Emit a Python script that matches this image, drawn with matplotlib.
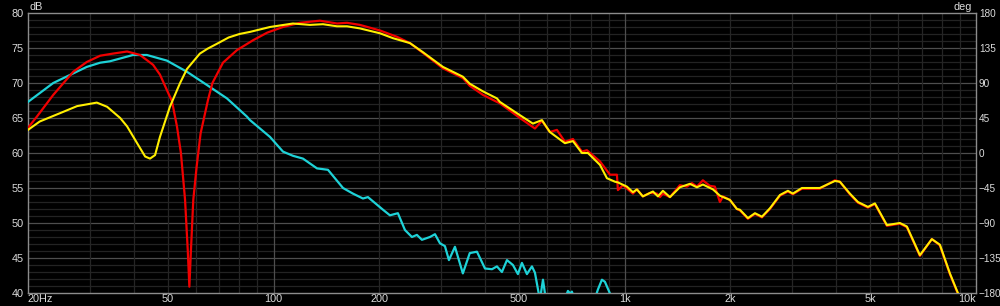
import matplotlib
matplotlib.use("Agg")
import matplotlib.pyplot as plt
import numpy as np

# ---------------- data ----------------
red_f = [20.0, 21.2, 23.6, 26.9, 29.4, 32.1, 34.9, 38.3, 41.7, 45.4, 47.5, 49.7, 51.4, 53.1, 54.5,
         56.0, 57.0, 57.6, 58.2, 59.1, 60.4, 62.0, 65.1, 67.0, 71.8, 78.7, 87.4, 96.0, 106.4, 118.9, 135.6,
         151.6, 161.9, 176.2, 201, 224.6, 244.6, 266.3, 303.6, 346, 362, 394.8, 432.6, 441,
         503, 555, 581, 612, 641, 675.6, 712, 755, 780, 850, 907.6, 950, 956, 988, 1055, 1083,
         1126, 1180, 1235, 1259, 1284, 1345, 1435, 1503, 1553, 1605, 1669, 1747, 1805, 1866,
         1903, 1992, 2086, 2127, 2242, 2348, 2458, 2590, 2766, 2914, 3010, 3194, 3592, 3964,
         4096, 4374, 4611, 4924, 5155, 5576, 6072, 6356, 6922, 7487, 7892, 8427, 8880, 9300]
red_db = [63.6, 65.2, 68.3, 71.6, 73.0, 73.9, 74.2, 74.5, 74.0, 72.6, 71.2, 69.0, 67.4, 63.8, 60.0,
          53.3, 46.1, 40.9, 46.1, 53.3, 58.0, 62.8, 67.6, 70.0, 72.9, 74.7, 76.1, 77.2, 78.0, 78.6, 78.9,
          78.5, 78.6, 78.3, 77.5, 76.6, 75.7, 74.3, 72.1, 70.7, 69.6, 68.3, 67.3, 67.1,
          65.0, 63.5, 64.6, 63.0, 63.3, 61.6, 62.0, 60.2, 60.4, 58.8, 56.9, 56.9, 54.7, 55.4, 54.2, 54.8,
          53.8, 54.3, 54.2, 53.7, 54.2, 53.7, 55.4, 55.2, 55.7, 55.2, 56.1, 55.3, 55.2, 53.0,
          53.8, 53.3, 52.0, 51.8, 50.6, 51.3, 50.8, 52.0, 53.9, 54.5, 54.1, 54.9, 54.9, 56.1,
          55.9, 54.1, 52.9, 52.2, 52.7, 49.6, 49.9, 49.4, 45.3, 47.7, 46.8, 42.7, 39.9, 38.3]

yel_f = [20.0, 21.6, 24.7, 27.6, 31.4, 33.6, 36.6, 38.3, 40.9, 43.1, 44.5, 46.0, 47.5, 50.7, 54.2,
         56.7, 61.7, 64.9, 69.0, 74.5, 80.0, 85.7, 97.7, 113.6, 127, 138.3, 151.6, 161.9, 176.2, 201, 218.9,
         244.6, 266.3, 303.6, 346, 362, 394.8, 432.6, 441, 503, 547.6, 581, 612, 675.6, 712, 755,
         785.6, 850, 889.6, 937.6, 956, 1014, 1055, 1083, 1126, 1203, 1243, 1284, 1345, 1435,
         1533, 1605, 1669, 1783, 1866, 1992, 2086, 2127, 2242, 2348, 2458, 2590, 2766, 2914,
         3010, 3194, 3592, 3964, 4096, 4374, 4611, 4924, 5155, 5576, 6072, 6356, 6922, 7487,
         7892, 8427, 8880, 9300]
yel_db = [63.3, 64.5, 65.7, 66.7, 67.2, 66.6, 65.0, 63.8, 61.4, 59.5, 59.2, 59.7, 62.3, 66.6, 70.0,
          72.0, 74.2, 74.9, 75.6, 76.5, 77.0, 77.3, 78.0, 78.5, 78.3, 78.4, 78.1, 78.1, 77.8, 77.1, 76.4,
          75.7, 74.4, 72.3, 70.9, 69.9, 68.8, 67.8, 67.3, 65.4, 64.2, 64.7, 63.0, 61.4, 61.7, 60.0,
          60.0, 58.3, 56.4, 55.9, 55.8, 55.2, 54.4, 54.8, 53.8, 54.5, 53.8, 54.6, 53.7, 55.1,
          55.6, 55.1, 55.5, 54.8, 53.9, 53.3, 52.0, 51.9, 50.7, 51.4, 50.9, 52.1, 54.0, 54.6,
          54.2, 55.0, 55.0, 56.0, 55.9, 54.2, 53.0, 52.3, 52.8, 49.7, 50.0, 49.5, 45.4, 47.7,
          46.9, 42.8, 40.0, 38.5]

cyan_f = [20.0, 23.6, 29.4, 32.1, 34.2, 36.6, 39.8, 43.6, 49.7, 56.7, 64.7, 73.7, 84.0, 85.7, 97.7,
          106.4, 113.6, 121.3, 133, 142.9, 157.7, 168.3, 179.7, 185.7, 204.9, 214.5, 226, 236.7,
          247.8, 256, 264.6, 278.8, 288.2, 297.8, 307.6, 315.8, 328.5, 346, 362, 379.5, 400,
          418.8, 432.6, 447, 462, 480.4, 496.4, 509.6, 526.6, 544.2, 555, 573.4, 585, 600.4, 641,
          680, 689, 700, 707, 721, 760, 795.6, 838.7, 861, 878, 901, 924, 980, 2000, 10000]
cyan_db = [67.3, 70.0, 72.3, 72.9, 73.1, 73.5, 74.0, 74.0, 73.2, 71.6, 69.7, 67.8, 65.2, 64.7, 62.3,
           60.2, 59.6, 59.2, 57.8, 57.6, 55.0, 54.2, 53.5, 53.7, 51.9, 51.1, 51.4, 49.0,
           48.0, 48.3, 47.6, 48.0, 48.4, 47.1, 46.7, 44.7, 46.6, 42.8, 45.7, 45.9, 43.5,
           43.4, 43.8, 43.0, 44.7, 44.0, 42.7, 44.3, 42.7, 43.8, 42.9, 39.0, 41.9, 38.0, 37.0,
           39.5, 40.3, 39.9, 40.2, 39.0, 37.0, 37.0, 40.5, 41.9, 41.6, 40.3, 39.0, 37.0, 30.0, 20.0]

x_ticks = [20, 50, 100, 200, 500, 1000, 2000, 5000, 10000]
x_labels = ["20Hz", "50", "100", "200", "500", "1k", "2k", "5k", "10k"]
db_ticks = [40, 45, 50, 55, 60, 65, 70, 75, 80]
deg_ticks = [-180, -135, -90, -45, 0, 45, 90, 135, 180]

# ---------------- figure ----------------
plt.rcParams['font.family'] = ['Liberation Sans', 'DejaVu Sans']
W, H = 1000, 306
fig = plt.figure(figsize=(W / 100, H / 100), dpi=100, facecolor='black')
L, R, T, B = 28, 976, 13, 293
ax = fig.add_axes([L / W, 1 - B / H, (R - L) / W, (B - T) / H], facecolor='black')

ax.set_xscale('log')
ax.set_xlim(20, 10000)
ax.set_ylim(40, 80)

# grid
for v in np.arange(41, 80, 1):
    if v % 5:
        ax.axhline(v, color='#232323', lw=0.9, zorder=0)
for v in db_ticks[1:-1]:
    ax.axhline(v, color='#4e4e4e', lw=0.9, zorder=0)
minor_x = [f * d for d in (10, 100, 1000) for f in range(2, 10)]
for v in minor_x:
    if 20 < v < 10000:
        ax.axvline(v, color='#252525', lw=0.9, zorder=0)
for v in (100, 1000):
    ax.axvline(v, color='#4e4e4e', lw=0.9, zorder=0)

ax.plot(cyan_f, cyan_db, color='#1ed2d7', lw=1.6, zorder=3, solid_joinstyle='round')
ax.plot(red_f, red_db, color='#f00000', lw=1.6, zorder=4, solid_joinstyle='round')
ax.plot(yel_f, yel_db, color='#ffee00', lw=1.5, zorder=5, solid_joinstyle='round')

tc = '#dcdcdc'
ax.set_xticks(x_ticks)
ax.set_xticklabels(x_labels)
ax.xaxis.set_minor_locator(matplotlib.ticker.NullLocator())
ax.set_yticks(db_ticks)
ax.tick_params(axis='both', length=0, colors=tc, labelsize=7.8)
ax.tick_params(axis='x', pad=1)
ax.tick_params(axis='y', pad=3)
labs = ax.get_xticklabels()
labs[0].set_ha('left')
labs[-1].set_ha('right')
for s in ax.spines.values():
    s.set_color('#8c8c8c')
    s.set_linewidth(1.0)

ax2 = ax.twinx()
ax2.set_ylim(-180, 180)
ax2.set_yticks(deg_ticks)
ax2.tick_params(axis='y', length=0, colors=tc, labelsize=7.2, pad=2)
for s in ax2.spines.values():
    s.set_visible(False)

fig.text(30 / W, 1 - 7 / H, "dB", color=tc, fontsize=7.8, ha='left', va='center')
fig.text(972 / W, 1 - 7 / H, "deg", color=tc, fontsize=7.8, ha='right', va='center')

fig.savefig("out.png", dpi=100, facecolor='black')
